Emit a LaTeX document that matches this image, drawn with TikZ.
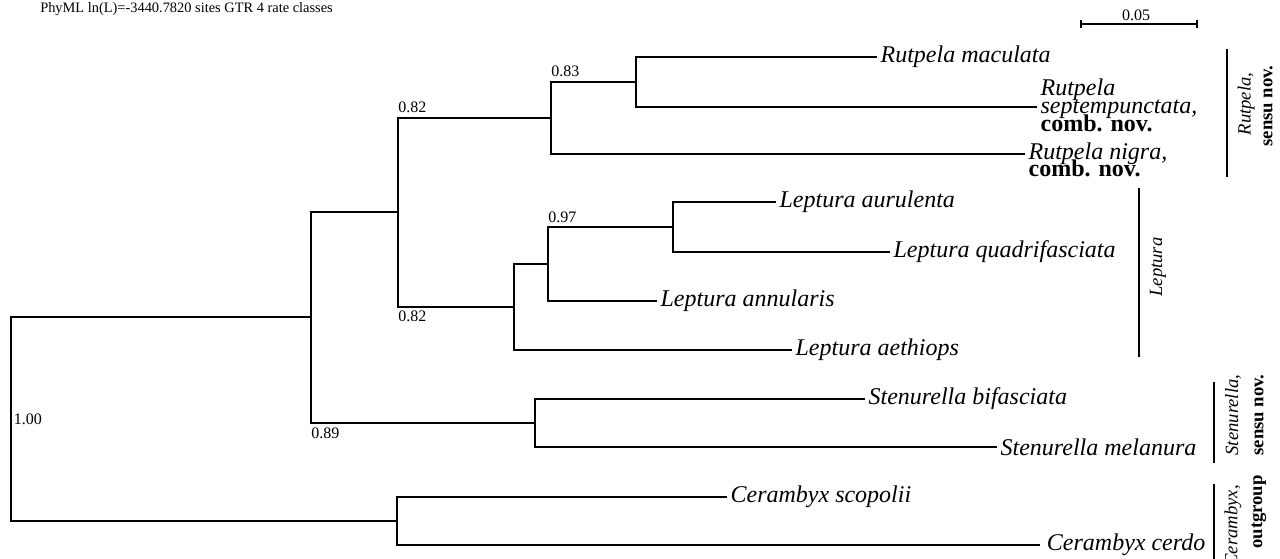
\documentclass[tikz,border=0pt]{standalone}
\usepackage{fontspec}
\setmainfont{Liberation Serif}
\begin{document}
\begin{tikzpicture}[x=0.75pt,y=-0.75pt,
  br/.style={line width=2.1pt, line join=miter},
  taxon/.style={anchor=west, inner sep=2.5pt, font=\fontsize{18}{20}\selectfont\itshape},
  combnov/.style={anchor=base west, inner sep=2.5pt, font=\fontsize{18}{20}\selectfont\bfseries},
  supt/.style={inner sep=1pt, font=\fontsize{12}{14}\selectfont},
  cladeit/.style={inner sep=0pt, rotate=90, font=\fontsize{14}{16}\selectfont\itshape},
  cladebf/.style={inner sep=0pt, rotate=90, font=\fontsize{14}{16}\selectfont\bfseries},
  cbar/.style={line width=1.3pt}]
\useasboundingbox (0,0) rectangle (1280,559);

% header
\node[anchor=west, inner sep=0pt, font=\fontsize{10.8}{12}\selectfont] (hdr) at (40,9) {PhyML ln(L)=-3440.7820 sites GTR 4 rate classes};

% scale bar
\coordinate (s1) at (1081,24);
\coordinate (s2) at (1197,24);
\draw[line width=1.6pt] (s1) -- (s2);
\draw[line width=1.6pt] ([yshift=3pt]s1) -- ([yshift=-3pt]s1);
\draw[line width=1.6pt] ([yshift=3pt]s2) -- ([yshift=-3pt]s2);
\node[supt] (sl) at (1136,15) {0.05};

% internal nodes
\coordinate (R) at (11,419);
\coordinate (A) at (311,317);
\coordinate (B) at (398,212);
\coordinate (C) at (551,118);
\coordinate (D) at (636,82);
\coordinate (E) at (514,307);
\coordinate (F) at (548,264);
\coordinate (G) at (673,227);
\coordinate (H) at (535,423);
\coordinate (I) at (397,521);

% tips
\node[taxon] (mac) at (877,57) {Rutpela maculata};
\node[taxon, yshift=-2pt] (sep) at (1037,107) {septempunctata,};
\node[taxon, anchor=base west] (sepR) at ([yshift=13.5pt]sep.base west) {Rutpela};
\node[combnov] (sepC) at ([yshift=-13.5pt]sep.base west) {comb. nov.};
\node[taxon] (nig) at (1025,154) {Rutpela nigra,};
\node[combnov] (nigC) at ([yshift=-12.5pt]nig.base west) {comb. nov.};
\node[taxon] (aur) at (776,202) {Leptura aurulenta};
\node[taxon] (qua) at (890,252) {Leptura quadrifasciata};
\node[taxon] (ann) at (657,301) {Leptura annularis};
\node[taxon] (aet) at (792,350) {Leptura aethiops};
\node[taxon] (bif) at (865,399) {Stenurella bifasciata};
\node[taxon] (mel) at (997,447) {Stenurella melanura};
\node[taxon] (sco) at (727,497) {Cerambyx scopolii};
\node[taxon, inner sep=5pt] (cer) at (1040,545) {Cerambyx cerdo};

% branches
\draw[br] (R) |- (A);
\draw[br] (R) |- (I);
\draw[br] (A) |- (B);
\draw[br] (A) |- (H);
\draw[br] (B) |- (C);
\draw[br] (B) |- (E);
\draw[br] (C) |- (D);
\draw[br] (C) |- (nig.west);
\draw[br] (D) |- (mac.west);
\draw[br] (D) |- ([yshift=2pt]sep.west);
\draw[br] (E) |- (F);
\draw[br] (E) |- (aet.west);
\draw[br] (F) |- (G);
\draw[br] (F) |- (ann.west);
\draw[br] (G) |- (aur.west);
\draw[br] (G) |- (qua.west);
\draw[br] (H) |- (bif.west);
\draw[br] (H) |- (mel.west);
\draw[br] (I) |- (sco.west);
\draw[br] (I) |- (cer.west);

% support values
\node[supt, anchor=west, xshift=1pt] (s100) at (R) {1.00};
\node[supt, anchor=north west, xshift=-1pt, yshift=-2.5pt] (s089) at (A |- H) {0.89};
\node[supt, anchor=south west, xshift=-1pt, yshift=2.5pt] (s082a) at (B |- C) {0.82};
\node[supt, anchor=north west, xshift=-1pt, yshift=-2pt] (s082b) at (B |- E) {0.82};
\node[supt, anchor=south west, xshift=-1pt, yshift=2.5pt] (s083) at (C |- D) {0.83};
\node[supt, anchor=south west, xshift=-1pt, yshift=2pt] (s097) at (F |- G) {0.97};

% clade bars and labels
\draw[cbar] (1227,49) -- (1227,177);
\node[cladeit] (cRi) at (1246,104) {Rutpela,};
\node[cladebf] (cRb) at (1268,106) {sensu nov.};
\draw[cbar] (1139,188) -- (1139,357);
\node[cladeit] (cL) at (1158,267) {Leptura};
\draw[cbar] (1214,382) -- (1214,463);
\node[cladeit] (cSi) at (1233,415) {Stenurella,};
\node[cladebf] (cSb) at (1259,415) {sensu nov.};
\draw[cbar] (1214,484) -- (1214,565);
\node[cladeit] (cCi) at (1233,526) {Cerambyx,};
\node[cladebf] (cCb) at (1259,512) {outgroup};
\end{tikzpicture}
\end{document}
